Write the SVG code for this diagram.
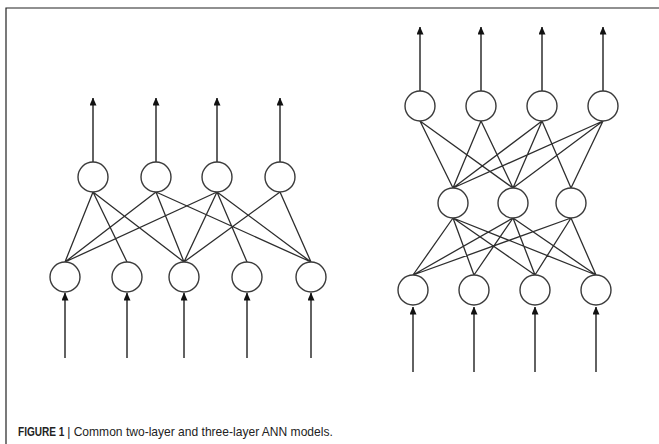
<svg xmlns="http://www.w3.org/2000/svg" width="659" height="444" viewBox="0 0 659 444">
<style>
.n{fill:#fff;stroke:#3a3a3a;stroke-width:1.4}
.e{stroke:#2e2e2e;stroke-width:1.3;fill:none}
.a{stroke:#2e2e2e;stroke-width:1.5;fill:none;marker-end:url(#ah)}
.f{stroke:#222;stroke-width:1.2;fill:none}
.cap{font-family:"Liberation Sans",Arial,sans-serif;font-size:13px;fill:#222}
</style>
<defs>
<marker id="ah" markerUnits="userSpaceOnUse" markerWidth="8" markerHeight="7" refX="7.5" refY="3.5" orient="auto" viewBox="0 0 8 7">
<path d="M0,0 L8,3.5 L0,7 Z" fill="#111"/>
</marker>
</defs>
<path class="f" d="M6,444 V8 H659"/>
<g id="connectors">
<path class="e" d="M93,192 L65,262 M93,192 L127,262 M93,192 L184,262
M156,192 L65,262 M156,192 L184,262 M156,192 L311,262
M217,192 L65,262 M217,192 L184,262 M217,192 L247,262 M217,192 L311,262
M280,192 L184,262 M280,192 L311,262"/>
<path class="e" d="M420,121 L453,188 M420,121 L513,188
M481,121 L453,188 M481,121 L513,188
M542,121 L453,188 M542,121 L513,188 M542,121 L571,188
M603,121 L453,188 M603,121 L513,188 M603,121 L571,188"/>
<path class="e" d="M453,218 L413,275 M453,218 L474,275 M453,218 L535,275 M453,218 L596,275
M513,218 L413,275 M513,218 L474,275 M513,218 L535,275 M513,218 L596,275
M571,218 L413,275 M571,218 L535,275 M571,218 L596,275"/>
<path class="a" d="M93,162 V98"/>
<path class="a" d="M156,162 V98"/>
<path class="a" d="M217,162 V98"/>
<path class="a" d="M280,162 V98"/>
<path class="a" d="M65,358 V293"/>
<path class="a" d="M127,358 V293"/>
<path class="a" d="M184,358 V293"/>
<path class="a" d="M247,358 V293"/>
<path class="a" d="M311,358 V293"/>
<path class="a" d="M420,91 V27"/>
<path class="a" d="M481,91 V27"/>
<path class="a" d="M542,91 V27"/>
<path class="a" d="M603,91 V27"/>
<path class="a" d="M413,372 V307"/>
<path class="a" d="M474,372 V307"/>
<path class="a" d="M535,372 V307"/>
<path class="a" d="M596,372 V307"/>
</g>
<g id="L-o1"><circle class="n" cx="93" cy="177" r="15"/></g>
<g id="L-o2"><circle class="n" cx="156" cy="177" r="15"/></g>
<g id="L-o3"><circle class="n" cx="217" cy="177" r="15"/></g>
<g id="L-o4"><circle class="n" cx="280" cy="177" r="15"/></g>
<g id="L-i1"><circle class="n" cx="65" cy="277" r="15"/></g>
<g id="L-i2"><circle class="n" cx="127" cy="277" r="15"/></g>
<g id="L-i3"><circle class="n" cx="184" cy="277" r="15"/></g>
<g id="L-i4"><circle class="n" cx="247" cy="277" r="15"/></g>
<g id="L-i5"><circle class="n" cx="311" cy="277" r="15"/></g>
<g id="R-o1"><circle class="n" cx="420" cy="106" r="15"/></g>
<g id="R-o2"><circle class="n" cx="481" cy="106" r="15"/></g>
<g id="R-o3"><circle class="n" cx="542" cy="106" r="15"/></g>
<g id="R-o4"><circle class="n" cx="603" cy="106" r="15"/></g>
<g id="R-h1"><circle class="n" cx="453" cy="203" r="15"/></g>
<g id="R-h2"><circle class="n" cx="513" cy="203" r="15"/></g>
<g id="R-h3"><circle class="n" cx="571" cy="203" r="15"/></g>
<g id="R-i1"><circle class="n" cx="413" cy="290" r="15"/></g>
<g id="R-i2"><circle class="n" cx="474" cy="290" r="15"/></g>
<g id="R-i3"><circle class="n" cx="535" cy="290" r="15"/></g>
<g id="R-i4"><circle class="n" cx="596" cy="290" r="15"/></g>
<g transform="translate(18,436) scale(0.8,1)">
<text class="cap" x="0" y="0" font-weight="bold" textLength="58" lengthAdjust="spacingAndGlyphs">FIGURE 1</text>
<text class="cap" x="61.5" y="0" textLength="332" lengthAdjust="spacingAndGlyphs">| Common two-layer and three-layer ANN models.</text>
</g>
</svg>
